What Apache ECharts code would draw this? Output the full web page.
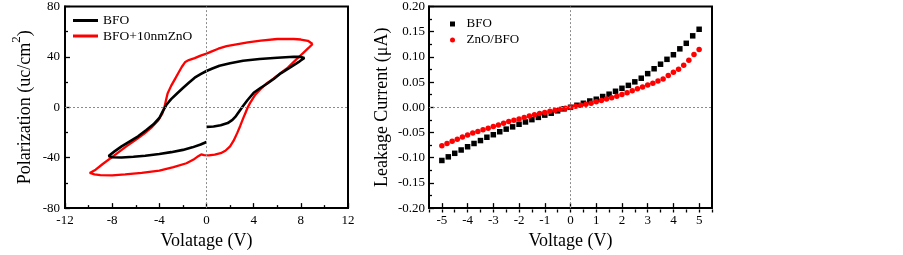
<!DOCTYPE html>
<html>
<head>
<meta charset="utf-8">
<script src="https://cdn.jsdelivr.net/npm/echarts@6/dist/echarts.min.js"></script>
<style>
  html, body { margin: 0; padding: 0; background: #fff; }
  #main { width: 903px; height: 255px; }
</style>
</head>
<body>
<div id="main"></div>
<script>
// P-E loops, [V, P]
var bfoLoop = [
    [0, -15.5], [0.6, -15.2], [1.2, -14.3], [1.8, -12.5], [2.2, -10], [2.5, -7], [2.8, -3], [3.1, 1],
    [3.5, 6], [4.0, 11.5], [4.6, 15.5], [5.1, 18.5], [5.7, 22.5], [6.3, 27], [6.9, 30.5], [7.4, 33.5],
    [7.9, 36.5], [8.3, 39.2],
    [8.0, 40.0], [7.4, 40.1], [6.0, 39.3], [4.5, 38.3], [3.1, 37], [2.0, 35], [1.1, 33], [0.5, 30.8],
    [0, 28.8], [-0.5, 26.3], [-1.0, 23.5], [-1.5, 19.5], [-2.0, 15.3], [-2.5, 11], [-3.0, 6.5],
    [-3.4, 2], [-3.7, -3], [-4.0, -8.5], [-4.5, -13.5], [-5.1, -18], [-5.8, -23], [-6.5, -27],
    [-7.2, -31], [-7.8, -35], [-8.3, -38.6],
    [-8.0, -39.6], [-7.2, -39.8], [-6.2, -39.3], [-5.2, -38.5], [-4.0, -37], [-3.0, -35.6],
    [-2.0, -33.8], [-1.2, -31.8], [-0.5, -29.5], [0, -27.5]
];
var znoLoop = [
    [9.0, 50.3], [8.6, 52.8], [8.0, 53.8], [7.4, 54.2], [6.0, 54.2], [4.6, 52.9], [3.5, 51.5],
    [2.3, 49.5], [1.7, 48.5], [1.0, 46.5], [0.4, 44.2], [0, 42.6], [-0.5, 41], [-1.0, 39],
    [-1.5, 37.5], [-1.8, 36], [-2.1, 32], [-2.4, 27], [-2.7, 22], [-3.0, 17], [-3.3, 11],
    [-3.45, 5], [-3.57, 0], [-3.75, -5], [-4.1, -10.5], [-4.6, -15.5], [-5.3, -21], [-6.0, -25.8],
    [-6.8, -31], [-7.7, -37.4], [-8.8, -45], [-9.4, -49.5], [-9.9, -52.1],
    [-9.5, -53.2], [-9.0, -53.8], [-8.0, -54], [-6.9, -53.3], [-5.5, -52], [-4.0, -50.2],
    [-2.8, -47.5], [-1.7, -44.4], [-1.1, -41.5], [-0.7, -38.8], [-0.45, -37.4], [-0.2, -38],
    [0.2, -38.1], [0.7, -37.6], [1.2, -36.4], [1.6, -34.5], [2.0, -31], [2.3, -26.5], [2.6, -20.5],
    [2.85, -15], [3.1, -9], [3.3, -4.5], [3.5, 0], [3.7, 3.5], [4.1, 9.5], [4.6, 14.5], [5.1, 19],
    [5.7, 23], [6.3, 27.3], [6.9, 31.5], [7.4, 36], [7.9, 40.5], [8.3, 44], [8.7, 47.5], [9.0, 50.3]
];

// I-V, BFO every 0.25 V, ZnO/BFO every 0.2 V
var bfoV = [];
for (var i = 0; i <= 40; i++) bfoV.push(-5 + i * 0.25);
var bfoI = [
    -0.1055, -0.0983, -0.0913, -0.0847, -0.0783, -0.0718, -0.066, -0.0594, -0.0544, -0.0485,
    -0.0433, -0.0388, -0.0336, -0.0291, -0.0245, -0.020, -0.0155, -0.0117, -0.007, -0.0031,
    0, 0.004, 0.008, 0.0125, 0.016, 0.0214, 0.026, 0.0318, 0.0377, 0.0435,
    0.0505, 0.0577, 0.0668, 0.0765, 0.0855, 0.0952, 0.1043, 0.116, 0.127, 0.1418, 0.1548
];
var znoV = [];
for (var j = 0; j <= 50; j++) znoV.push(Math.round((-5 + j * 0.2) * 10) / 10);
var znoI = [
    -0.0763, -0.0718, -0.0672, -0.0633, -0.0588, -0.055, -0.0511, -0.0478, -0.0447, -0.0414,
    -0.0381, -0.035, -0.0317, -0.0284, -0.0258, -0.0233, -0.020, -0.0175, -0.0148, -0.0122,
    -0.0103, -0.0078, -0.0058, -0.0039, -0.0019, 0,
    0.002, 0.004, 0.006, 0.008, 0.011, 0.0136, 0.0163, 0.0188, 0.0221, 0.0252,
    0.0291, 0.033, 0.0369, 0.0402, 0.0441, 0.0479, 0.0524, 0.0563, 0.0629, 0.0693,
    0.0757, 0.0835, 0.0932, 0.1049, 0.1146
];
var ivTicks = [-5, -4, -3, -2, -1, 0, 1, 2, 3, 4, 5];

var serif = 'Liberation Serif';
var zeroLines = {
    silent: true,
    symbol: 'none',
    label: { show: false },
    lineStyle: { color: '#8c8c8c', type: [2, 2], width: 1 },
    data: [{ xAxis: 0 }, { yAxis: 0 }]
};

function pair(xs, ys) {
    return xs.map(function(x, k) { return [x, ys[k]]; });
}

function valAxis(grid, o) {
    var base = {
        type: 'value',
        gridIndex: grid,
        axisLine: { show: true, onZero: false, lineStyle: { color: '#000', width: 2 } },
        axisTick: { show: true, inside: true, length: 5, lineStyle: { color: '#000', width: 1.3 } },
        minorTick: { show: true, splitNumber: 2, length: 3, lineStyle: { color: '#000', width: 1.3 } },
        axisLabel: { color: '#000', fontFamily: serif, fontSize: 13, margin: 5 },
        splitLine: { show: false },
        nameLocation: 'middle',
        nameTextStyle: { color: '#000', fontFamily: serif, fontSize: 18 }
    };
    return Object.assign(base, o);
}

var chart = echarts.init(document.getElementById('main'));
chart.setOption({
    animation: false,
    backgroundColor: '#fff',
    grid: [
        { left: 65, top: 6.5, width: 283, height: 206, show: true, borderColor: '#000', borderWidth: 2 },
        { left: 429, top: 6.5, width: 283, height: 206, show: true, borderColor: '#000', borderWidth: 2 },
        { left: 429, top: 6.5, width: 283, height: 206, show: false }
    ],
    xAxis: [
        valAxis(0, { min: -12, max: 12, interval: 4, name: 'Volatage (V)', nameGap: 20,
            axisLabel: { color: '#000', fontFamily: serif, fontSize: 13, margin: 6 } }),
        valAxis(1, { min: -5.5, max: 5.5, name: 'Voltage (V)', nameGap: 22,
            minorTick: { show: false },
            axisTick: { show: true, inside: true, length: 5, customValues: ivTicks, lineStyle: { color: '#000', width: 1.3 } },
            axisLabel: { color: '#000', fontFamily: serif, fontSize: 13, margin: 6, customValues: ivTicks } }),
        valAxis(2, { min: -5.5, max: 5.5, interval: 0.5,
            axisLine: { show: false }, axisLabel: { show: false }, minorTick: { show: false },
            axisTick: { show: true, inside: true, length: 3, lineStyle: { color: '#000', width: 1.3 } } })
    ],
    yAxis: [
        valAxis(0, { min: -80, max: 80, interval: 40, nameGap: 31,
            name: '{b|Polarization (uc/cm}{sup|2}{b|)}',
            nameTextStyle: {
                color: '#000', fontFamily: serif, fontSize: 18,
                rich: {
                    b: { color: '#000', fontFamily: serif, fontSize: 18, lineHeight: 24, verticalAlign: 'bottom' },
                    sup: { color: '#000', fontFamily: serif, fontSize: 13, lineHeight: 24, verticalAlign: 'top' }
                }
            } }),
        valAxis(1, { min: -0.2, max: 0.2, interval: 0.05, name: 'Leakage Current (\u03bcA)', nameGap: 38,
            axisLabel: { color: '#000', fontFamily: serif, fontSize: 13, margin: 4,
                formatter: function(v) { return v.toFixed(2); } } }),
        { type: 'value', gridIndex: 2, show: false, min: 0, max: 1 }
    ],
    legend: [
        {
            left: 73, top: 13.5, orient: 'vertical', padding: 0, itemGap: 1.5,
            itemWidth: 25, itemHeight: 3, icon: 'rect',
            textStyle: { color: '#000', fontFamily: serif, fontSize: 13.5 },
            data: ['BFO', 'BFO+10nmZnO']
        },
        {
            left: 450, top: 17.5, orient: 'vertical', padding: 0, itemGap: 3,
            itemWidth: 18, itemHeight: 5,
            textStyle: { color: '#000', fontFamily: serif, fontSize: 13 },
            formatter: function(n) { return n.replace('_IV', ''); },
            data: [{ name: 'BFO_IV', icon: 'path://M0,0h1v1h-1z' }, { name: 'ZnO/BFO', icon: 'circle' }]
        }
    ],
    series: [
        {
            name: 'BFO', type: 'line', xAxisIndex: 0, yAxisIndex: 0, data: bfoLoop,
            showSymbol: false, color: '#000', lineStyle: { color: '#000', width: 2.6 },
            markLine: zeroLines, z: 3
        },
        {
            name: 'BFO+10nmZnO', type: 'line', xAxisIndex: 0, yAxisIndex: 0, data: znoLoop,
            showSymbol: false, color: '#ff0000', lineStyle: { color: '#ff0000', width: 2.3 }, z: 2
        },
        {
            name: 'BFO_IV', type: 'scatter', xAxisIndex: 1, yAxisIndex: 1, data: pair(bfoV, bfoI),
            symbol: 'rect', symbolSize: 5.5, itemStyle: { color: '#000', opacity: 1 }, color: '#000',
            markLine: zeroLines
        },
        {
            name: 'ZnO/BFO', type: 'scatter', xAxisIndex: 1, yAxisIndex: 1, data: pair(znoV, znoI),
            symbol: 'circle', symbolSize: 5.5, itemStyle: { color: '#ff0000', opacity: 1 }, color: '#ff0000'
        }
    ]
});
</script>
</body>
</html>
